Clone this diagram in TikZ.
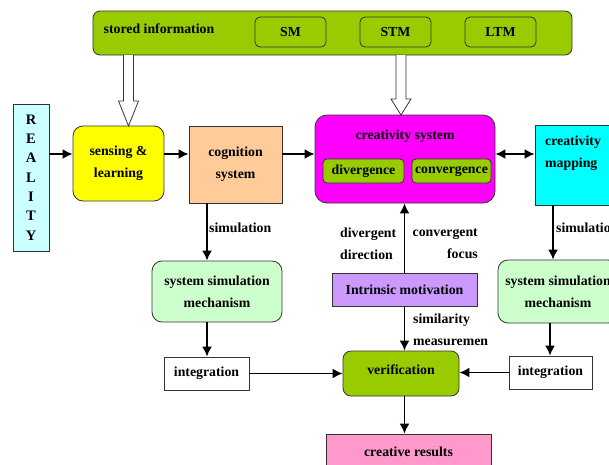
\documentclass[tikz,border=0pt]{standalone}
\usepackage{fontspec}
\setmainfont{Liberation Serif}
\usetikzlibrary{arrows.meta}
\definecolor{olive}{HTML}{99CC00}
\definecolor{peach}{HTML}{FFCC99}
\definecolor{lcyan}{HTML}{CCFFFF}
\definecolor{lgreen}{HTML}{CCFFCC}
\definecolor{lav}{HTML}{CC99FF}
\definecolor{pinkr}{HTML}{FF99CC}
\definecolor{magn}{HTML}{FF00FF}
\definecolor{cyn}{HTML}{00FFFF}
\definecolor{yel}{HTML}{FFFF00}
\definecolor{bord}{HTML}{333333}
\begin{document}
\begin{tikzpicture}[x=1pt,y=-1pt,
  font=\fontsize{13.8}{22}\selectfont\bfseries,
  box/.style={draw=bord,line width=0.8pt,inner sep=0pt,align=center},
  rbox/.style={box,rounded corners=#1},
  txt/.style={inner sep=0pt},
  arr/.style={line width=1.8pt,-{Latex[length=10pt,width=10pt]}},
  darr/.style={line width=1.8pt,{Latex[length=10pt,width=10pt]}-{Latex[length=10pt,width=10pt]}},
  hollow/.style={draw=bord,line width=0.8pt,fill=white}]
\useasboundingbox[fill=white] (0,0) rectangle (609,464);

% stored information
\node[rbox=7pt,fill=olive,minimum width=479pt,minimum height=44pt] (store) at (332.5,33) {};
\node[txt] (storetxt) at (159,29) {stored information};
\node[rbox=5pt,fill=olive,minimum width=71pt,minimum height=30pt] (sm) at (290.5,32) {SM};
\node[rbox=5pt,fill=olive,minimum width=71pt,minimum height=30pt] (stm) at (395.5,32) {STM};
\node[rbox=5pt,fill=olive,minimum width=71pt,minimum height=30pt] (ltm) at (500.5,32) {LTM};

% reality
\node[box,fill=lcyan,minimum width=36pt,minimum height=147pt,
  font=\fontsize{14.5}{19.3}\selectfont\bfseries] (reality) at (31,177.5) {R\\E\\A\\L\\I\\T\\Y};

\node[rbox=10pt,fill=yel,minimum width=91pt,minimum height=75pt] (sense) at (118.5,163.5) {sensing \&\\learning};
\node[box,fill=peach,minimum width=93pt,minimum height=77pt] (cog) at (235.5,164.5) {cognition\\system};

% creativity system
\node[rbox=12pt,fill=magn,minimum width=180pt,minimum height=88pt] (cre) at (405,159) {};
\node[txt] (cretxt) at (405,136) {creativity system};
\node[rbox=4pt,fill=olive,minimum width=81pt,minimum height=24pt] (div) at (363.5,171) {divergence};
\node[rbox=4pt,fill=olive,minimum width=79pt,minimum height=24pt] (conv) at (451.5,171) {convergence};

% creativity mapping
\node[box,fill=cyn,minimum width=80pt,minimum height=80pt] (map) at (575,165) {};
\node[txt,anchor=west,align=left] (maptxt) at (545,153.5) {creativity\\mapping};

% simulation mechanisms
\node[rbox=10pt,fill=lgreen,minimum width=130pt,minimum height=61pt] (simL) at (217,291.5) {system simulation\\mechanism};
\node[rbox=10pt,fill=lgreen,minimum width=120pt,minimum height=63pt] (simR) at (558,291.5) {system simulation\\mechanism};

\node[box,fill=white,minimum width=85pt,minimum height=33pt] (intL) at (206.5,373.5) {integration};
\node[box,fill=white,minimum width=83pt,minimum height=33pt] (intR) at (550.5,372.5) {integration};

\node[rbox=8pt,fill=olive,minimum width=116pt,minimum height=45pt] (ver) at (401,373.5) {};
\node[txt] (vertxt) at (401,370) {verification};
\node[box,fill=lav,minimum width=145pt,minimum height=33pt] (intr) at (404.5,289.5) {Intrinsic motivation};
\node[box,fill=pinkr,minimum width=165pt,minimum height=36pt] (res) at (408.5,452) {creative results};

% hollow arrows
\draw[hollow] (123.5,55) -- (123.5,101) -- (118.5,101) -- (128.5,126) -- (138.5,101) -- (133.5,101) -- (133.5,55);
\draw[hollow] (396,55) -- (396,99) -- (391,99) -- (401,115) -- (411,99) -- (406,99) -- (406,55);

% helper coordinates
\coordinate (yA) at (0,154);
\coordinate (xA) at (207,0);
\coordinate (xB) at (553,0);
\coordinate (xC) at (550,0);

\draw[arr] (reality.east |- yA) -- (sense.west |- yA);
\draw[arr] (sense.east |- yA) -- (cog.west |- yA);
\draw[arr] (cog.east |- yA) -- (cre.west |- yA);
\draw[darr] (cre.east |- yA) -- (map.west |- yA);

\draw[arr] (xA |- cog.south) -- (xA |- simL.north);
\node[txt,anchor=west] (simlab1) at (209,228) {simulation};
\draw[arr] (xA |- simL.south) -- (xA |- intL.north);
\draw[arr] (intL.east) -- (ver.west);

\draw[arr] (intr.north) -- (intr.north |- cre.south);
\node[txt,anchor=west,align=left] (dlab) at (340,244) {divergent\\direction};
\node[txt,anchor=east,align=right] (clab) at (478,244) {convergent\\focus};
\draw[arr] (intr.south) -- (intr.south |- ver.north);
\node[txt,anchor=west,align=left] (slab) at (413,330) {similarity\\measuremen};
\draw[arr] (ver.south -| intr.south) -- (res.north -| intr.south);

\draw[arr] (xB |- map.south) -- (xB |- simR.north);
\node[txt,anchor=west] (simlab2) at (556,228) {simulation};
\draw[arr] (xC |- simR.south) -- (xC |- intR.north);
\draw[arr] (intR.west) -- (intR.west -| ver.east);
\end{tikzpicture}
\end{document}
